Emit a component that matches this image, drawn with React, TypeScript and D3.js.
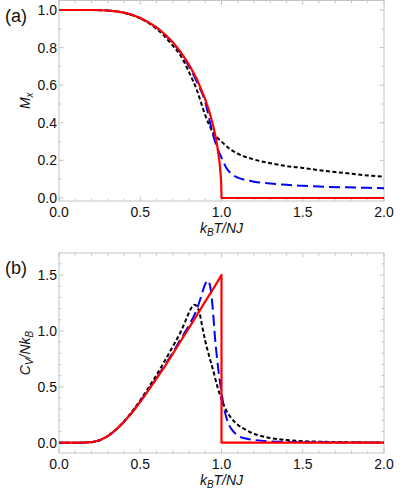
import React from "react";
import * as d3 from "d3";

// ---- Data ----
// Panel (a): magnetization M_x vs k_B T / N J
const redAT = [0, 0.1, 0.2, 0.3, 0.35, 0.4, 0.45, 0.5, 0.55, 0.6, 0.65, 0.7, 0.75, 0.8, 0.85, 0.9, 0.925, 0.95, 0.965, 0.975, 0.985, 0.99, 0.995, 0.998, 1.0, 2.0];
const redAM = [1, 1, 0.9999, 0.9974, 0.9931, 0.9857, 0.9741, 0.9575, 0.9354, 0.9072, 0.8724, 0.8288, 0.775, 0.71, 0.6296, 0.525, 0.46, 0.38, 0.32, 0.27, 0.21, 0.172, 0.122, 0.0775, 0, 0];

const blackAT = [0, 0.1, 0.2, 0.3, 0.4, 0.5, 0.55, 0.6, 0.65, 0.7, 0.75, 0.8, 0.85, 0.9, 0.95, 1.0, 1.05, 1.1, 1.2, 1.3, 1.4, 1.5, 1.6, 1.7, 1.8, 1.9, 2.0];
const blackAM = [1, 1, 0.9999, 0.997, 0.985, 0.955, 0.932, 0.9, 0.86, 0.81, 0.755, 0.67, 0.57, 0.44, 0.345, 0.3, 0.262, 0.236, 0.205, 0.185, 0.17, 0.16, 0.148, 0.138, 0.129, 0.12, 0.113];

const blueAT = [0, 0.1, 0.2, 0.3, 0.4, 0.5, 0.6, 0.7, 0.75, 0.8, 0.85, 0.9, 0.93, 0.95, 0.97, 1.0, 1.03, 1.06, 1.1, 1.15, 1.2, 1.3, 1.4, 1.5, 1.6, 1.75, 1.9, 2.0];
const blueAM = [1, 1, 0.9999, 0.9973, 0.9857, 0.957, 0.906, 0.826, 0.77, 0.7, 0.615, 0.51, 0.4, 0.33, 0.275, 0.215, 0.16, 0.13, 0.108, 0.095, 0.087, 0.077, 0.07, 0.065, 0.061, 0.057, 0.054, 0.052];

// Panel (b): specific heat C_V / N k_B vs k_B T / N J
const redBT = [0, 0.1, 0.15, 0.2, 0.25, 0.3, 0.35, 0.4, 0.45, 0.5, 0.55, 0.6, 0.65, 0.7, 0.75, 0.8, 0.85, 0.9, 0.95, 1.0, 1.0, 2.0];
const redBC = [0, 0, 0.0003, 0.0045, 0.0216, 0.0585, 0.115, 0.186, 0.27, 0.366, 0.468, 0.574, 0.681, 0.794, 0.912, 1.027, 1.143, 1.264, 1.378, 1.5, 0, 0];

const blackBT = [0, 0.1, 0.2, 0.25, 0.3, 0.35, 0.4, 0.45, 0.5, 0.55, 0.6, 0.65, 0.7, 0.75, 0.77, 0.79, 0.805, 0.82, 0.835, 0.85, 0.865, 0.88, 0.9, 0.925, 0.95, 0.975, 1.0, 1.025, 1.05, 1.1, 1.15, 1.2, 1.3, 1.4, 1.5, 1.6, 1.8, 2.0];
const blackBC = [0, 0, 0.005, 0.022, 0.06, 0.118, 0.19, 0.28, 0.38, 0.49, 0.605, 0.73, 0.86, 0.995, 1.06, 1.13, 1.18, 1.22, 1.235, 1.215, 1.16, 1.05, 0.91, 0.77, 0.64, 0.5, 0.39, 0.3, 0.24, 0.16, 0.115, 0.08, 0.042, 0.024, 0.014, 0.009, 0.004, 0.002];

const blueBT = [0, 0.1, 0.2, 0.25, 0.3, 0.35, 0.4, 0.45, 0.5, 0.55, 0.6, 0.65, 0.7, 0.75, 0.8, 0.85, 0.875, 0.9, 0.915, 0.93, 0.945, 0.96, 0.98, 1.0, 1.02, 1.04, 1.07, 1.1, 1.15, 1.2, 1.3, 1.5, 2.0];
const blueBC = [0, 0, 0.0045, 0.0216, 0.059, 0.116, 0.187, 0.272, 0.369, 0.472, 0.58, 0.69, 0.805, 0.93, 1.05, 1.2, 1.31, 1.42, 1.45, 1.4, 1.22, 0.94, 0.66, 0.45, 0.28, 0.18, 0.105, 0.065, 0.037, 0.025, 0.012, 0.005, 0.001];

const xTicks = [0, 0.5, 1.0, 1.5, 2.0];
const yTicksA = [0, 0.2, 0.4, 0.6, 0.8, 1.0];
const yTicksB = [0, 0.5, 1.0, 1.5];

const FONT = "'Liberation Sans', Arial, sans-serif";
const FRAME = "#c4c4c4";

type Series = { t: number[]; v: number[]; color: string; dash?: string; smooth?: boolean };

function Panel(props: {
  top: number; bottom: number; y0px: number; y1px: number; y1val: number;
  yTicks: number[]; yMinorStep: number; series: Series[]; label: string;
  ylab: React.ReactNode; id: string;
}) {
  const { top, bottom, y0px, y1px, y1val, yTicks, yMinorStep, series, label, ylab, id } = props;
  const x = d3.scaleLinear().domain([0, 2]).range([59, 384]);
  const y = d3.scaleLinear().domain([0, y1val]).range([y0px, y1px]);
  const left = x(0), right = x(2);
  const yLo = y.invert(bottom), yHi = y.invert(top);
  const xMinor = d3.range(0, 2.0001, 0.1);
  const yMinor = d3.range(Math.ceil(yLo / yMinorStep) * yMinorStep, yHi, yMinorStep);
  const mk = (s: Series) => {
    const pts: [number, number][] = s.t.map((t, i) => [t, s.v[i]]);
    const gen = d3.line<[number, number]>().x(d => x(d[0])).y(d => y(d[1]))
      .curve(s.smooth ? d3.curveMonotoneX : d3.curveLinear);
    return gen(pts) || "";
  };
  return (
    <g>
      <defs>
        <clipPath id={id}><rect x={left} y={top} width={right - left} height={bottom - top} /></clipPath>
      </defs>
      <rect x={left} y={top} width={right - left} height={bottom - top} fill="none" stroke={FRAME} strokeWidth={1} />
      {xMinor.map((t, i) => {
        const major = Math.abs(t * 2 - Math.round(t * 2)) < 1e-6;
        const len = major ? 4.5 : 2.5;
        return (
          <g key={"xt" + i}>
            <line x1={x(t)} x2={x(t)} y1={bottom} y2={bottom - len} stroke={FRAME} />
            <line x1={x(t)} x2={x(t)} y1={top} y2={top + len} stroke={FRAME} />
          </g>
        );
      })}
      {yMinor.map((v, i) => {
        const major = yTicks.some(m => Math.abs(m - v) < 1e-6);
        const len = major ? 4.5 : 2.5;
        return (
          <g key={"yt" + i}>
            <line x1={left} x2={left + len} y1={y(v)} y2={y(v)} stroke={FRAME} />
            <line x1={right} x2={right - len} y1={y(v)} y2={y(v)} stroke={FRAME} />
          </g>
        );
      })}
      {xTicks.map((t, i) => (
        <text key={"xl" + i} x={x(t)} y={bottom + 15.5} textAnchor="middle" fontSize={14} fontFamily={FONT} fill="#111">{t.toFixed(1)}</text>
      ))}
      {yTicks.map((v, i) => (
        <text key={"yl" + i} x={left - 2} y={y(v) + 5} textAnchor="end" fontSize={14} fontFamily={FONT} fill="#111">{v.toFixed(1)}</text>
      ))}
      <g clipPath={`url(#${id})`}>
        {series.map((s, i) => (
          <path key={"s" + i} d={mk(s)} fill="none" stroke={s.color} strokeWidth={s.dash ? 2 : 2.2} strokeDasharray={s.dash} strokeLinejoin="round" />
        ))}
      </g>
      <text x={(left + right) / 2} y={bottom + 32} textAnchor="middle" fontSize={14} fontFamily={FONT} fontStyle="italic" fill="#111">
        k<tspan fontSize={10} dy={3}>B</tspan><tspan dy={-3}>T</tspan>/<tspan>NJ</tspan>
      </text>
      <text transform={`translate(30,${(top + bottom) / 2}) rotate(-90)`} textAnchor="middle" fontSize={14} fontFamily={FONT} fontStyle="italic" fill="#111">
        {ylab}
      </text>
      <text x={5} y={top + 21} fontSize={18} fontFamily={FONT} fill="#111">{label}</text>
    </g>
  );
}

export default function App() {
  const seriesA: Series[] = [
    { t: blackAT, v: blackAM, color: "#000", dash: "4,2.5", smooth: true },
    { t: blueAT, v: blueAM, color: "#0000ff", dash: "11,5", smooth: true },
    { t: redAT, v: redAM, color: "#ff0000" },
  ];
  const seriesB: Series[] = [
    { t: blackBT, v: blackBC, color: "#000", dash: "4,2.5", smooth: true },
    { t: blueBT, v: blueBC, color: "#0000ff", dash: "11,5", smooth: true },
    { t: redBT, v: redBC, color: "#ff0000" },
  ];
  return (
    <svg width={415} height={490} style={{ display: "block", position: "absolute", left: 0, top: 0, background: "#fff" }}>
      <Panel id="ca" top={0.5} bottom={201} y0px={198} y1px={10} y1val={1} yTicks={yTicksA} yMinorStep={0.1}
        series={seriesA} label="(a)"
        ylab={<>M<tspan fontSize={10} dy={3}>x</tspan></>} />
      <Panel id="cb" top={253} bottom={453} y0px={442.7} y1px={275} y1val={1.5} yTicks={yTicksB} yMinorStep={0.1}
        series={seriesB} label="(b)"
        ylab={<>C<tspan fontSize={10} dy={3}>V</tspan><tspan dy={-3}>/Nk</tspan><tspan fontSize={10} dy={3}>B</tspan></>} />
    </svg>
  );
}
